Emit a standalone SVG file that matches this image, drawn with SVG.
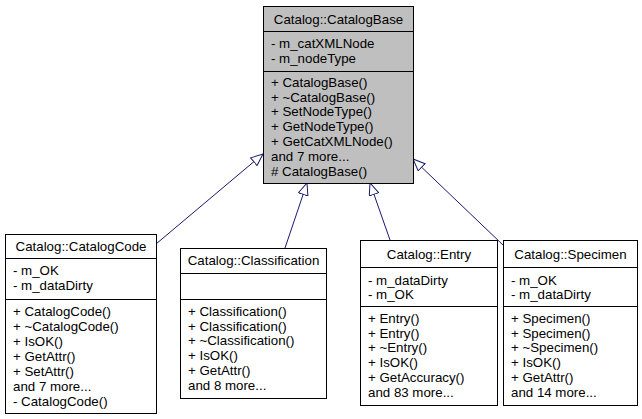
<svg xmlns="http://www.w3.org/2000/svg" width="642" height="419" viewBox="0 0 642 419">
<style>
text{font-family:"Liberation Sans",Arial,sans-serif;font-size:13.3px;fill:#000}
.t{text-anchor:middle}
.box{fill:#fff;stroke:#000;stroke-width:1}
.base{fill:#bfbfbf;stroke:#000;stroke-width:1}
.sep{stroke:#000;stroke-width:1}
.edge{stroke:#191970;stroke-width:1;fill:none}
</style>
<defs>
<marker id="inh" viewBox="0 0 13 11" refX="12.5" refY="5.5" markerWidth="13" markerHeight="11" markerUnits="userSpaceOnUse" orient="auto">
<path d="M0.5,0.5 L12.5,5.5 L0.5,10.5 Z" fill="#fff" stroke="#191970" stroke-width="1"/>
</marker>
</defs>
<g id="edges">
<path class="edge" d="M156,244 L263,154" marker-end="url(#inh)"/>
<path class="edge" d="M285,248 L307,183" marker-end="url(#inh)"/>
<path class="edge" d="M390,240 L370,183" marker-end="url(#inh)"/>
<path class="edge" d="M503,245 L413,159" marker-end="url(#inh)"/>
</g>
<g id="CatalogBase">
<rect class="base" x="263.5" y="6.5" width="150" height="177"/>
<line class="sep" x1="263.5" y1="31.5" x2="413.5" y2="31.5"/>
<line class="sep" x1="263.5" y1="71.5" x2="413.5" y2="71.5"/>
<text class="t" x="338.5" y="23.7">Catalog::CatalogBase</text>
<text x="271" y="47.7">- m_catXMLNode</text>
<text x="271" y="62.7">- m_nodeType</text>
<text x="271" y="86.7">+ CatalogBase()</text>
<text x="271" y="101.5">+ ~CatalogBase()</text>
<text x="271" y="116.3">+ SetNodeType()</text>
<text x="271" y="131.1">+ GetNodeType()</text>
<text x="271" y="145.9">+ GetCatXMLNode()</text>
<text x="271" y="160.7">and 7 more...</text>
<text x="271" y="175.5"># CatalogBase()</text>
</g>
<g id="CatalogCode">
<rect class="box" x="5.5" y="234.5" width="151" height="179"/>
<line class="sep" x1="5.5" y1="258.5" x2="156.5" y2="258.5"/>
<line class="sep" x1="5.5" y1="299.5" x2="156.5" y2="299.5"/>
<text class="t" x="81" y="250.7">Catalog::CatalogCode</text>
<text x="13" y="274.5">- m_OK</text>
<text x="13" y="289.5">- m_dataDirty</text>
<text x="13" y="315.7">+ CatalogCode()</text>
<text x="13" y="330.7">+ ~CatalogCode()</text>
<text x="13" y="345.7">+ IsOK()</text>
<text x="13" y="360.7">+ GetAttr()</text>
<text x="13" y="375.7">+ SetAttr()</text>
<text x="13" y="390.7">and 7 more...</text>
<text x="13" y="405.7">- CatalogCode()</text>
</g>
<g id="Classification">
<rect class="box" x="180.5" y="248.5" width="146" height="150"/>
<line class="sep" x1="180.5" y1="273.5" x2="326.5" y2="273.5"/>
<line class="sep" x1="180.5" y1="299.5" x2="326.5" y2="299.5"/>
<text class="t" x="253.5" y="265.2">Catalog::Classification</text>
<text x="188" y="316">+ Classification()</text>
<text x="188" y="330.7">+ Classification()</text>
<text x="188" y="345.4">+ ~Classification()</text>
<text x="188" y="360.1">+ IsOK()</text>
<text x="188" y="374.8">+ GetAttr()</text>
<text x="188" y="389.5">and 8 more...</text>
</g>
<g id="Entry">
<rect class="box" x="360.5" y="240.5" width="137" height="165"/>
<line class="sep" x1="360.5" y1="267.5" x2="497.5" y2="267.5"/>
<line class="sep" x1="360.5" y1="306.5" x2="497.5" y2="306.5"/>
<text class="t" x="429" y="258.7">Catalog::Entry</text>
<text x="368" y="284.7">- m_dataDirty</text>
<text x="368" y="299.2">- m_OK</text>
<text x="368" y="323">+ Entry()</text>
<text x="368" y="337.7">+ Entry()</text>
<text x="368" y="352.4">+ ~Entry()</text>
<text x="368" y="367.1">+ IsOK()</text>
<text x="368" y="381.8">+ GetAccuracy()</text>
<text x="368" y="396.5">and 83 more...</text>
</g>
<g id="Specimen">
<rect class="box" x="503.5" y="240.5" width="134" height="165"/>
<line class="sep" x1="503.5" y1="267.5" x2="637.5" y2="267.5"/>
<line class="sep" x1="503.5" y1="306.5" x2="637.5" y2="306.5"/>
<text class="t" x="570.5" y="258.7">Catalog::Specimen</text>
<text x="511" y="284.7">- m_OK</text>
<text x="511" y="299.2">- m_dataDirty</text>
<text x="511" y="323">+ Specimen()</text>
<text x="511" y="337.7">+ Specimen()</text>
<text x="511" y="352.4">+ ~Specimen()</text>
<text x="511" y="367.1">+ IsOK()</text>
<text x="511" y="381.8">+ GetAttr()</text>
<text x="511" y="396.5">and 14 more...</text>
</g>
</svg>
